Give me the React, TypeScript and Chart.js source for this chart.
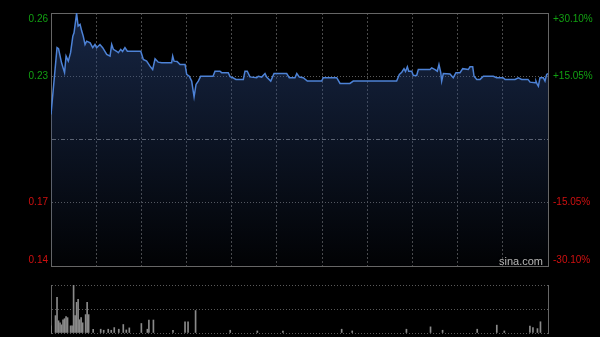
import React, { useEffect, useRef } from 'react';
import { Chart, registerables } from 'chart.js';

Chart.register(...registerables);

// ---- data ----
const priceMinutes = [
  0, 4, 5, 7, 9, 10, 11.5, 13, 14.5, 15.3, 17, 18, 19.3, 20.4, 21.4, 22.6, 23.7, 26, 27.7, 29.2,
  30.3, 32.5, 34.3, 37, 39.2, 40.3, 41.4, 43.6, 44.7, 46.3, 47.5, 49.1, 50.7, 59.6, 61.3, 63.5, 65.7, 67.5, 69.1, 71.2,
  73.5, 80.1, 80.8, 81.7, 83.7, 85.7, 89, 90.1, 91.8, 93.4, 95, 96.3, 97.8, 99.4, 107.6, 108.9, 112.2, 113.3, 117.7, 118.9,
  120.8, 122.8, 127.7, 128.8, 130.3, 132.1, 136.6, 137.6, 139.9, 142.1, 143.2, 145.9, 148.1, 156.5, 158.2, 162, 163.2, 164.9, 167.5, 170.2,
  179.7, 180.8, 189.7, 191.9, 198.5, 200.7, 229.5, 231.3, 232.9, 234.4, 235.4, 236.6, 237.5, 239.5, 240.6, 242.8, 243.9, 251.7, 252.8, 255,
  256.5, 257.6, 258.8, 259.4, 260.5, 264.9, 267.1, 268.9, 271.6, 273.4, 277.1, 278.2, 280, 280.9, 282.7, 284.9, 287.1, 293.7, 295.9, 300.1,
  301.5, 308.1, 310.3, 312.5, 316.7, 318.1, 321.4, 322, 322.9, 323.6, 324.7, 326.9, 328, 329.1, 330,
];
const prices = [
  0.2119, 0.2437, 0.2432, 0.2365, 0.2318, 0.2397, 0.2373, 0.2413, 0.2492, 0.2508, 0.26, 0.254, 0.2548, 0.2516, 0.2492, 0.2452, 0.2468, 0.246, 0.2437, 0.2452,
  0.2437, 0.2452, 0.2437, 0.2405, 0.2397, 0.2452, 0.2429, 0.242, 0.2413, 0.2429, 0.2419, 0.2437, 0.242, 0.242, 0.2381, 0.2373, 0.2349, 0.2333, 0.2384, 0.2368,
  0.2365, 0.2365, 0.2397, 0.2373, 0.2371, 0.2357, 0.2357, 0.231, 0.2301, 0.2278, 0.2203, 0.2262, 0.2278, 0.2301, 0.2301, 0.2325, 0.2325, 0.2318, 0.2318, 0.2299,
  0.2294, 0.2286, 0.2286, 0.2325, 0.2325, 0.2298, 0.2294, 0.2301, 0.2297, 0.2314, 0.2297, 0.2278, 0.2314, 0.2314, 0.2294, 0.2294, 0.2314, 0.2297, 0.2294, 0.2278,
  0.2278, 0.2294, 0.2294, 0.2267, 0.2267, 0.2278, 0.2278, 0.231, 0.232, 0.2337, 0.2324, 0.2346, 0.2325, 0.2325, 0.2305, 0.2305, 0.2333, 0.2333, 0.2341, 0.2333,
  0.2325, 0.2357, 0.2318, 0.2278, 0.2314, 0.2312, 0.2294, 0.2318, 0.2318, 0.2337, 0.2333, 0.2346, 0.2346, 0.2301, 0.2286, 0.2286, 0.2301, 0.2301, 0.2294, 0.2294,
  0.2286, 0.2286, 0.2294, 0.2286, 0.2286, 0.2273, 0.227, 0.2278, 0.2262, 0.2254, 0.2294, 0.2294, 0.2278, 0.231, 0.2314,
];

const volumeMinutes = [
  0, 3, 4, 5, 6, 7, 8, 9, 10, 11, 13, 14, 15, 16, 17, 18, 19, 20, 21, 23, 24, 25,
  28, 33, 35, 38, 40, 42, 45, 48, 50, 52, 60, 64, 65, 68, 81, 89, 91, 96, 119, 137, 154,
  193, 200, 236, 252, 260, 283, 296, 301, 318, 320, 323, 325,
];
const volumes = [
  7, 17, 35, 12, 10, 8, 13, 14, 16, 15, 7, 7, 47, 17, 30, 33, 13, 15, 10, 18, 30, 18,
  3.7, 3.7, 2.7, 3.7, 2.7, 5.3, 3.7, 8.3, 3, 5, 9.3, 3.7, 12.7, 12.7, 2.7, 11, 11, 22, 2.7, 2, 2,
  3.7, 2, 3.7, 6, 2.7, 3.7, 7.7, 2, 6.7, 5.3, 4.3, 11,
];

const prevClose = 0.2;
const priceMin = 0.1398;
const priceMax = 0.2602;
const yTickValues = [0.14, 0.17, 0.2, 0.23, 0.26];
const leftTickLabels = ['0.14', '0.17', '', '0.23', '0.26'];
const rightTickLabels = ['-30.10%', '-15.05%', '', '+15.05%', '+30.10%'];
const totalMinutes = 330;
const timeGridStep = 30;
const volumeMax = 47;
const volumeTicks = [0, 23.5, 47];

// ---- styles ----
const GREEN = '#12a012';
const RED = '#d01010';
const BORDER = '#666666';
const GRID = '#4a4a4a';
const FONT = { family: '"Liberation Sans", Arial, sans-serif', size: 10 };
const TRANSPARENT = 'rgba(0,0,0,0)';

function tickColor(i: number) {
  const v = yTickValues[i];
  return v > prevClose ? GREEN : v < prevClose ? RED : '#888';
}

function buildPriceTicks(scale: any) {
  const plotH = 252.5;
  const inset = ((priceMax - priceMin) * 6) / plotH;
  scale.ticks = yTickValues.map((v, i) => ({
    value: i === 0 ? priceMin + inset : i === yTickValues.length - 1 ? priceMax - inset : v,
  }));
}

export default function App() {
  const priceRef = useRef<HTMLCanvasElement>(null);
  const volRef = useRef<HTMLCanvasElement>(null);

  useEffect(() => {
    const priceData = priceMinutes.map((m, i) => ({ x: m, y: prices[i] }));
    const volData = volumeMinutes.map((m, i) => ({ x: m, y: volumes[i] }));

    const priceChart = new Chart(priceRef.current as HTMLCanvasElement, {
      type: 'line',
      data: {
        datasets: [
          {
            data: priceData,
            borderColor: '#4d82d6',
            borderWidth: 1.5,
            pointRadius: 0,
            tension: 0,
            fill: 'start',
            backgroundColor: (ctx: any) => {
              const { chart } = ctx;
              const area = chart.chartArea;
              if (!area) return 'rgba(40,65,115,0.3)';
              const g = chart.ctx.createLinearGradient(0, area.top, 0, area.bottom);
              g.addColorStop(0, 'rgba(45,75,135,0.5)');
              g.addColorStop(1, 'rgba(45,75,135,0.03)');
              return g;
            },
          },
        ],
      },
      options: {
        animation: false,
        responsive: false,
        layout: { autoPadding: false, padding: { top: 13, bottom: 0, left: 0, right: 0 } },
        plugins: { legend: { display: false }, tooltip: { enabled: false } },
        scales: {
          x: {
            type: 'linear',
            position: 'bottom',
            min: 0,
            max: totalMinutes,
            ticks: { display: false, stepSize: timeGridStep },
            grid: {
              drawTicks: false,
              color: (ctx: any) =>
                ctx.tick && (ctx.tick.value === 0 || ctx.tick.value === totalMinutes) ? TRANSPARENT : GRID,
            },
            border: { display: true, color: BORDER, dash: [2, 2] },
            afterFit: (s: any) => {
              s.height = 0;
            },
          },
          xTop: {
            type: 'linear',
            position: 'top',
            min: 0,
            max: totalMinutes,
            ticks: { display: false },
            grid: { display: false, drawTicks: false },
            border: { display: true, color: BORDER },
            afterFit: (s: any) => {
              s.height = 0;
            },
          },
          y: {
            type: 'linear',
            position: 'left',
            min: priceMin,
            max: priceMax,
            afterBuildTicks: buildPriceTicks,
            afterFit: (s: any) => {
              s.width = 51;
            },
            ticks: {
              padding: 3,
              font: FONT,
              color: (ctx: any) => tickColor(ctx.index),
              callback: (_v: any, i: number) => leftTickLabels[i],
            },
            grid: {
              drawTicks: false,
              color: (ctx: any) =>
                ctx.index === 0 || ctx.index === yTickValues.length - 1 ? TRANSPARENT : (yTickValues[ctx.index] === prevClose ? '#6a6a6a' : '#5a5a5a'),
            },
            border: {
              display: true,
              color: BORDER,
              dash: (ctx: any) => (yTickValues[ctx.index] === prevClose ? [4, 2, 1, 2] : [1, 2]),
            },
          },
          y2: {
            type: 'linear',
            position: 'right',
            min: priceMin,
            max: priceMax,
            afterBuildTicks: buildPriceTicks,
            afterFit: (s: any) => {
              s.width = 52;
            },
            ticks: {
              padding: 5,
              font: FONT,
              color: (ctx: any) => tickColor(ctx.index),
              callback: (_v: any, i: number) => rightTickLabels[i],
            },
            grid: { drawOnChartArea: false, drawTicks: false },
            border: { display: true, color: BORDER },
          },
        },
      } as any,
    });

    const volChart = new Chart(volRef.current as HTMLCanvasElement, {
      type: 'bar',
      data: {
        datasets: [
          {
            data: volData,
            backgroundColor: '#8a8a8a',
            barThickness: 1,
            borderWidth: 0,
          },
        ],
      },
      options: {
        animation: false,
        responsive: false,
        layout: { autoPadding: false, padding: { top: 13, bottom: 4, left: 0, right: 0 } },
        plugins: { legend: { display: false }, tooltip: { enabled: false } },
        scales: {
          x: {
            type: 'linear',
            min: 0,
            max: totalMinutes,
            offset: false,
            ticks: { display: false },
            grid: { display: false, drawTicks: false },
            border: { display: false },
            afterFit: (s: any) => {
              s.height = 0;
            },
          },
          y: {
            type: 'linear',
            position: 'left',
            min: 0,
            max: volumeMax,
            afterBuildTicks: (s: any) => {
              s.ticks = volumeTicks.map((v) => ({ value: v }));
            },
            afterFit: (s: any) => {
              s.width = 51;
            },
            ticks: { display: false },
            grid: { drawTicks: false, color: '#5a5a5a' },
            border: { display: true, color: BORDER, dash: [1, 2] },
          },
          y2: {
            type: 'linear',
            position: 'right',
            min: 0,
            max: volumeMax,
            afterFit: (s: any) => {
              s.width = 52;
            },
            ticks: { display: false },
            grid: { drawOnChartArea: false, drawTicks: false },
            border: { display: true, color: BORDER },
          },
        },
      } as any,
    });

    return () => {
      priceChart.destroy();
      volChart.destroy();
    };
  }, []);

  return (
    <div
      style={{
        position: 'fixed',
        left: 0,
        top: 0,
        width: 600,
        height: 337,
        background: '#000',
        overflow: 'hidden',
      }}
    >
      <canvas
        ref={volRef}
        width={600}
        height={65}
        style={{ position: 'absolute', left: 0, top: 272, width: 600, height: 65 }}
      />
      <canvas
        ref={priceRef}
        width={600}
        height={277}
        style={{ position: 'absolute', left: 0, top: 0, width: 600, height: 277 }}
      />
      <div
        style={{
          position: 'absolute',
          left: 499,
          top: 254,
          fontFamily: '"Liberation Sans", Arial, sans-serif',
          fontSize: 11,
          lineHeight: '14px',
          color: '#b8b8b8',
          textShadow: '0 0 2px #000, 0 0 1px #000',
          whiteSpace: 'nowrap',
        }}
      >
        sina.com
      </div>
    </div>
  );
}
